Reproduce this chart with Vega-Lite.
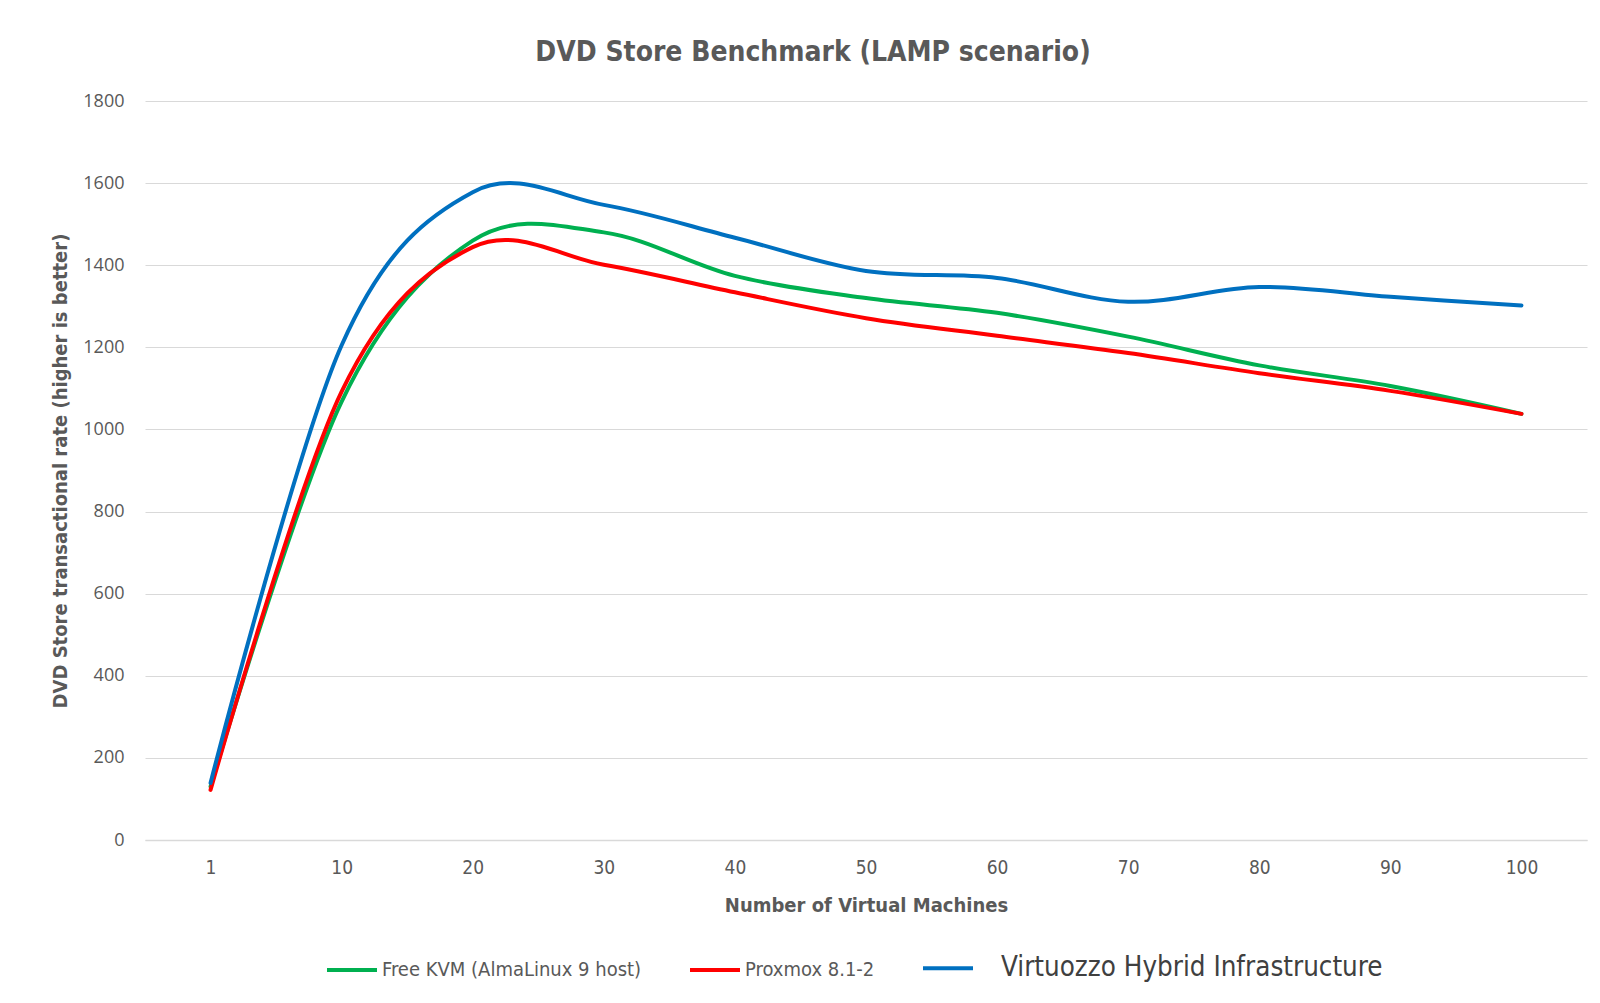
{
  "$schema": "https://vega.github.io/schema/vega-lite/v6.json",
  "width": 1442,
  "height": 739,
  "autosize": {"type": "none"},
  "padding": {"left": 145, "top": 101, "right": 13, "bottom": 163},
  "background": "white",
  "config": {"view": {"stroke": null}},
  "title": {
    "text": "DVD Store Benchmark (LAMP scenario)",
    "font": "Liberation Sans Narrow, DejaVu Sans Condensed, sans-serif",
    "fontSize": 28,
    "fontWeight": "bold",
    "color": "#595959",
    "anchor": "middle",
    "dx": -53,
    "offset": 25
  },
  "data": {
    "values": [
      {"vms": 1, "series": "Free KVM (AlmaLinux 9 host)", "rate": 130},
      {"vms": 10, "series": "Free KVM (AlmaLinux 9 host)", "rate": 1068},
      {"vms": 20, "series": "Free KVM (AlmaLinux 9 host)", "rate": 1460},
      {"vms": 30, "series": "Free KVM (AlmaLinux 9 host)", "rate": 1480},
      {"vms": 40, "series": "Free KVM (AlmaLinux 9 host)", "rate": 1374},
      {"vms": 50, "series": "Free KVM (AlmaLinux 9 host)", "rate": 1320},
      {"vms": 60, "series": "Free KVM (AlmaLinux 9 host)", "rate": 1284},
      {"vms": 70, "series": "Free KVM (AlmaLinux 9 host)", "rate": 1226},
      {"vms": 80, "series": "Free KVM (AlmaLinux 9 host)", "rate": 1156},
      {"vms": 90, "series": "Free KVM (AlmaLinux 9 host)", "rate": 1106},
      {"vms": 100, "series": "Free KVM (AlmaLinux 9 host)", "rate": 1038},
      {"vms": 1, "series": "Proxmox 8.1-2", "rate": 122},
      {"vms": 10, "series": "Proxmox 8.1-2", "rate": 1092},
      {"vms": 20, "series": "Proxmox 8.1-2", "rate": 1444},
      {"vms": 30, "series": "Proxmox 8.1-2", "rate": 1401},
      {"vms": 40, "series": "Proxmox 8.1-2", "rate": 1334},
      {"vms": 50, "series": "Proxmox 8.1-2", "rate": 1271},
      {"vms": 60, "series": "Proxmox 8.1-2", "rate": 1228},
      {"vms": 70, "series": "Proxmox 8.1-2", "rate": 1186},
      {"vms": 80, "series": "Proxmox 8.1-2", "rate": 1137},
      {"vms": 90, "series": "Proxmox 8.1-2", "rate": 1094},
      {"vms": 100, "series": "Proxmox 8.1-2", "rate": 1038},
      {"vms": 1, "series": "Virtuozzo Hybrid Infrastructure", "rate": 139},
      {"vms": 10, "series": "Virtuozzo Hybrid Infrastructure", "rate": 1205},
      {"vms": 20, "series": "Virtuozzo Hybrid Infrastructure", "rate": 1578},
      {"vms": 30, "series": "Virtuozzo Hybrid Infrastructure", "rate": 1547},
      {"vms": 40, "series": "Virtuozzo Hybrid Infrastructure", "rate": 1467},
      {"vms": 50, "series": "Virtuozzo Hybrid Infrastructure", "rate": 1386},
      {"vms": 60, "series": "Virtuozzo Hybrid Infrastructure", "rate": 1369},
      {"vms": 70, "series": "Virtuozzo Hybrid Infrastructure", "rate": 1311},
      {"vms": 80, "series": "Virtuozzo Hybrid Infrastructure", "rate": 1347},
      {"vms": 90, "series": "Virtuozzo Hybrid Infrastructure", "rate": 1323},
      {"vms": 100, "series": "Virtuozzo Hybrid Infrastructure", "rate": 1302}
    ]
  },
  "mark": {"type": "line", "interpolate": "cardinal", "strokeWidth": 4, "strokeCap": "round"},
  "encoding": {
    "x": {
      "field": "vms",
      "type": "ordinal",
      "scale": {"type": "point", "padding": 0.5},
      "axis": {
        "title": "Number of Virtual Machines",
        "labelAngle": 0,
        "labelFont": "Liberation Sans Narrow, DejaVu Sans Condensed, sans-serif",
        "labelFontSize": 19,
        "labelColor": "#595959",
        "labelPadding": 18,
        "ticks": false,
        "grid": false,
        "domainColor": "#d9d9d9",
        "domainWidth": 1.5,
        "titleFont": "Liberation Sans Narrow, DejaVu Sans Condensed, sans-serif",
        "titleFontSize": 20,
        "titleFontWeight": "bold",
        "titleColor": "#595959",
        "titlePadding": 18
      }
    },
    "y": {
      "field": "rate",
      "type": "quantitative",
      "scale": {"domain": [0, 1800]},
      "axis": {
        "title": "DVD Store transactional rate (higher is better)",
        "values": [0, 200, 400, 600, 800, 1000, 1200, 1400, 1600, 1800],
        "format": "d",
        "labelFont": "Open Sans, sans-serif",
        "labelFontSize": 18,
        "labelColor": "#595959",
        "labelPadding": 21,
        "ticks": false,
        "domain": false,
        "gridColor": "#d9d9d9",
        "gridWidth": 1.2,
        "titleFont": "Liberation Sans Narrow, DejaVu Sans Condensed, sans-serif",
        "titleFontSize": 20,
        "titleFontWeight": "bold",
        "titleColor": "#595959",
        "titlePadding": 12
      }
    },
    "color": {
      "field": "series",
      "type": "nominal",
      "scale": {
        "domain": ["Free KVM (AlmaLinux 9 host)", "Proxmox 8.1-2", "Virtuozzo Hybrid Infrastructure"],
        "range": ["#00b050", "#ff0000", "#0070c0"]
      },
      "legend": {
        "title": null,
        "orient": "none",
        "direction": "horizontal",
        "legendX": 180,
        "legendY": 840,
        "symbolType": "stroke",
        "symbolSize": 2500,
        "symbolStrokeWidth": 4,
        "labelOffset": {"expr": "datum.label == 'Virtuozzo Hybrid Infrastructure' ? 26 : 3"},
        "columnPadding": 40,
        "labelFont": "Liberation Sans Narrow, DejaVu Sans Condensed, sans-serif",
        "labelFontSize": {"expr": "datum.label == 'Virtuozzo Hybrid Infrastructure' ? 27.5 : 20"},
        "labelColor": {"expr": "datum.label == 'Virtuozzo Hybrid Infrastructure' ? '#404040' : '#595959'"},
        "labelLimit": 600
      }
    }
  }
}
